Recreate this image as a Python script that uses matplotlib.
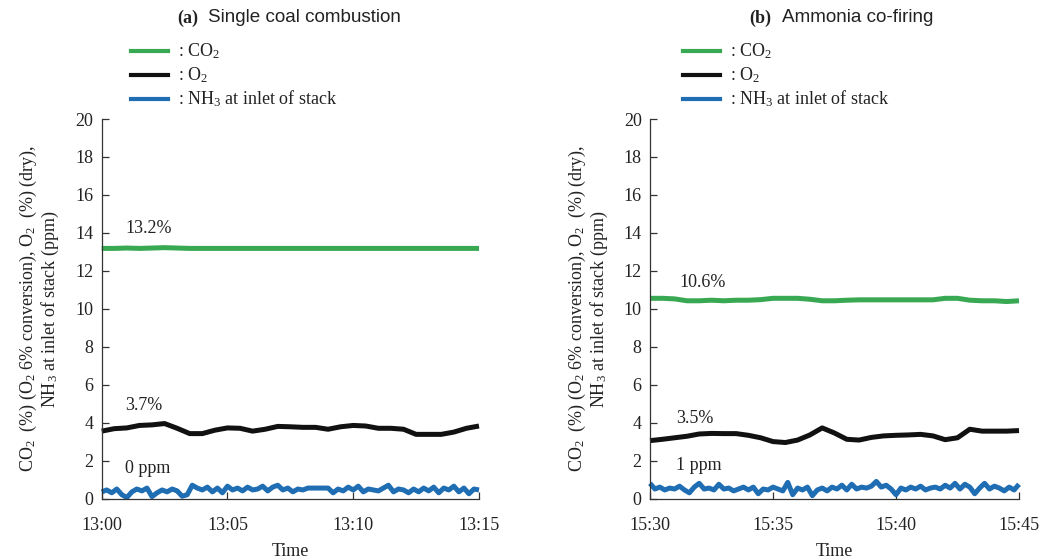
import numpy as np
import matplotlib
matplotlib.use("Agg")
import matplotlib.pyplot as plt

plt.rcParams["font.family"] = ["Liberation Serif", "DejaVu Serif"]
plt.rcParams["mathtext.fontset"] = "custom"
plt.rcParams["mathtext.rm"] = "Liberation Serif"
plt.rcParams["mathtext.it"] = "Liberation Serif:italic"
plt.rcParams["mathtext.bf"] = "Liberation Serif:bold"

# ---- data (minutes after start of each window) ----
ticks_a = ["13:00", "13:05", "13:10", "13:15"]
ticks_b = ["15:30", "15:35", "15:40", "15:45"]

co2_a = [13.18, 13.18, 13.2, 13.18, 13.2, 13.22, 13.2, 13.18, 13.18, 13.18, 13.18,
         13.18, 13.18, 13.18, 13.18, 13.18, 13.18, 13.18, 13.18, 13.18, 13.18,
         13.18, 13.18, 13.18, 13.18, 13.18, 13.18, 13.18, 13.18, 13.18, 13.18]
o2_a = [3.55, 3.68, 3.72, 3.85, 3.88, 3.95, 3.7, 3.42, 3.42, 3.6, 3.72,
        3.7, 3.55, 3.65, 3.8, 3.78, 3.75, 3.75, 3.65, 3.78, 3.85,
        3.82, 3.7, 3.7, 3.65, 3.38, 3.38, 3.38, 3.5, 3.7, 3.82]
nh3_a = [0.35, 0.45, 0.3, 0.5, 0.2, 0.05, 0.35, 0.5, 0.4, 0.55,
         0.1, 0.3, 0.45, 0.35, 0.5, 0.4, 0.12, 0.2, 0.7, 0.55,
         0.45, 0.6, 0.35, 0.55, 0.3, 0.65, 0.45, 0.55, 0.4, 0.6,
         0.45, 0.5, 0.65, 0.4, 0.6, 0.7, 0.45, 0.55, 0.35, 0.5,
         0.45, 0.55, 0.55, 0.55, 0.55, 0.55, 0.3, 0.5, 0.4, 0.6,
         0.45, 0.65, 0.35, 0.5, 0.45, 0.4, 0.55, 0.7, 0.35, 0.5,
         0.45, 0.3, 0.5, 0.35, 0.55, 0.4, 0.6, 0.3, 0.55, 0.45,
         0.65, 0.35, 0.55, 0.25, 0.5, 0.45]

co2_b = [10.55, 10.55, 10.52, 10.42, 10.42, 10.45, 10.42, 10.45, 10.45, 10.48, 10.55,
         10.55, 10.55, 10.5, 10.42, 10.42, 10.45, 10.47, 10.47, 10.47, 10.47,
         10.47, 10.47, 10.47, 10.55, 10.55, 10.45, 10.42, 10.42, 10.38, 10.42]
o2_b = [3.05, 3.12, 3.2, 3.28, 3.4, 3.43, 3.42, 3.42, 3.33, 3.2, 3.0,
        2.95, 3.08, 3.35, 3.72, 3.45, 3.12, 3.08, 3.22, 3.3, 3.33,
        3.35, 3.38, 3.3, 3.1, 3.2, 3.65, 3.55, 3.55, 3.55, 3.58]
nh3_b = [0.8, 0.5, 0.6, 0.45, 0.55, 0.5, 0.65, 0.45, 0.3, 0.6,
         0.8, 0.5, 0.55, 0.45, 0.75, 0.5, 0.55, 0.4, 0.5, 0.6,
         0.45, 0.6, 0.25, 0.5, 0.45, 0.6, 0.5, 0.4, 0.85, 0.2,
         0.55, 0.45, 0.6, 0.15, 0.45, 0.55, 0.4, 0.6, 0.5, 0.7,
         0.45, 0.75, 0.5, 0.6, 0.55, 0.65, 0.9, 0.6, 0.7, 0.5,
         0.2, 0.55, 0.45, 0.6, 0.5, 0.65, 0.45, 0.55, 0.6, 0.5,
         0.7, 0.55, 0.8, 0.5, 0.75, 0.6, 0.25, 0.55, 0.8, 0.5,
         0.65, 0.55, 0.4, 0.6, 0.45, 0.75]

labels_a = ["13.2%", "3.7%", "0 ppm"]
labels_b = ["10.6%", "3.5%", "1 ppm"]

GREEN = "#38a853"
BLACK = "#111111"
BLUE = "#1f6db3"

W, H = 1055, 559
fig = plt.figure(figsize=(W / 100, H / 100), dpi=100)


def fx(x):
    return x / W


def fy(y):
    return 1 - y / H


ylabel = ("CO$_2$  (%) (O$_2$ 6% conversion), O$_2$  (%) (dry),\n"
          "NH$_3$ at inlet of stack (ppm)")


def panel(x0, x1, tag, title, co2, o2, nh3, ticks, labels, label_pos):
    ax = fig.add_axes([fx(x0), fy(498.5), fx(x1) - fx(x0), fy(119) - fy(498.5)])
    for vals, c in ((co2, GREEN), (o2, BLACK), (nh3, BLUE)):
        t = np.linspace(0, 15, len(vals))
        ax.plot(t, vals, color=c, lw=3.6, solid_joinstyle="round",
                solid_capstyle="butt", clip_on=False)
    ax.set_xlim(0, 15)
    ax.set_ylim(0, 20)
    ax.set_xticks([0, 5, 10, 15])
    ax.set_xticklabels(ticks)
    ax.set_yticks(range(0, 21, 2))
    ax.tick_params(direction="in", length=5, width=0.9, color="#333333",
                   labelsize=13, pad=6, labelcolor="#222222")
    ax.tick_params(axis="x", pad=13)
    for s in ("top", "right"):
        ax.spines[s].set_visible(False)
    for s in ("left", "bottom"):
        ax.spines[s].set_linewidth(0.9)
        ax.spines[s].set_color("#333333")
    ax.set_xlabel("Time", fontsize=13, color="#222222", labelpad=7)
    ax.set_ylabel(ylabel, fontsize=13, color="#222222", labelpad=10,
                  linespacing=1.05)
    for txt, (tx, ty) in zip(labels, label_pos):
        ax.text(tx, ty, txt, fontsize=13, color="#222222", ha="left", va="center")

    # panel heading: bold serif tag followed by sans-serif title
    split = (x0 + x1) / 2 - 92 if tag == "(a)" else (x0 + x1) / 2 - 63
    fig.text(fx(split), fy(18), tag, fontsize=13, fontweight="bold",
             ha="right", va="center", color="#222222")
    fig.text(fx(split + 10), fy(18), title, fontsize=13.6,
             family=["Liberation Sans", "DejaVu Sans"],
             ha="left", va="center", color="#222222")

    # series key
    lx0 = x0 + 29 if tag == "(a)" else x0 + 33
    for (name, c, yy) in ((": CO$_2$", GREEN, 51), (": O$_2$", BLACK, 75),
                          (": NH$_3$ at inlet of stack", BLUE, 99)):
        fig.add_artist(plt.Line2D([fx(lx0), fx(lx0 + 37)], [fy(yy), fy(yy)],
                                  color=c, lw=3.0, transform=fig.transFigure))
        fig.text(fx(lx0 + 47), fy(yy), name, fontsize=13, ha="left",
                 va="center", color="#222222")
    return ax


panel(101.7, 479, "(a)", "Single coal combustion", co2_a, o2_a, nh3_a, ticks_a,
      labels_a, [(0.93, 14.24), (0.93, 4.92), (0.93, 1.6)])
panel(650, 1019, "(b)", "Ammonia co-firing", co2_b, o2_b, nh3_b, ticks_b,
      labels_b, [(1.2, 11.4), (1.06, 4.24), (1.06, 1.76)])

fig.savefig("out.png", dpi=100)
